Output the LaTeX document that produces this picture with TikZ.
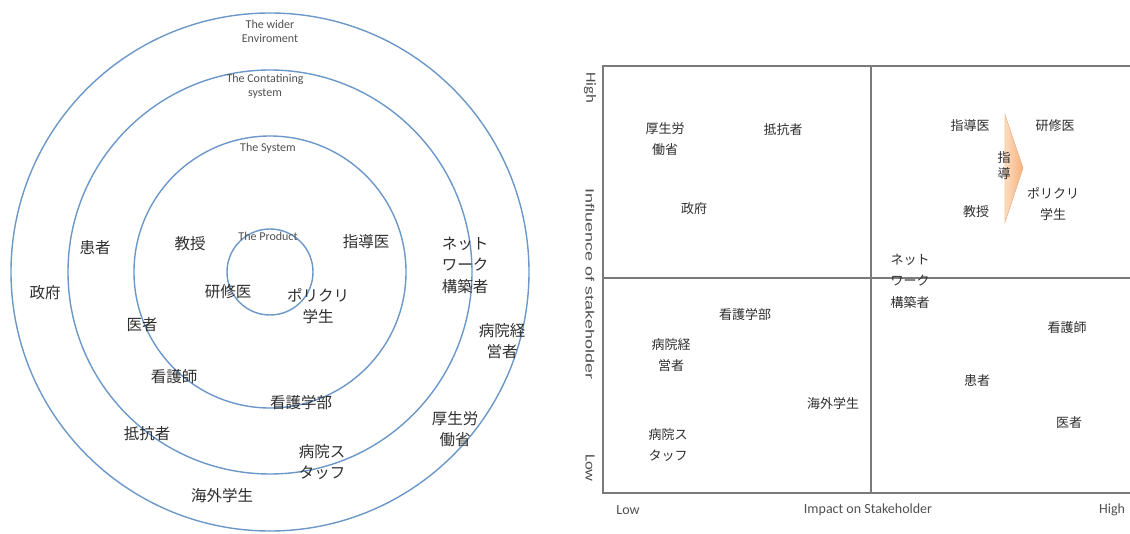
\documentclass[tikz,border=0pt]{standalone}
\usepackage{fontspec}
\setmainfont{Carlito}
\newfontfamily\jp{Noto Sans CJK JP}
\newfontfamily\axf{Liberation Sans}
\begin{document}
\begin{tikzpicture}[x=1pt,y=-1pt,
  ring/.style={draw=ringblue, line width=1.4pt},
  jl/.style={font=\jp\fontsize{15.5}{21.5}\selectfont, text=txt, align=center, inner sep=0pt},
  jr/.style={font=\jp\fontsize{13}{21.5}\selectfont, text=txt, align=center, inner sep=0pt},
  en/.style={font=\fontsize{12}{14}\selectfont, text=entxt, align=center, inner sep=0pt},
  ax/.style={font=\fontsize{14}{16}\selectfont, text=entxt, inner sep=0pt},
  grid/.style={draw=gridgray, line width=1.2pt}]
\definecolor{ringblue}{HTML}{6B97C9}
\definecolor{txt}{HTML}{2E2E2E}
\definecolor{entxt}{HTML}{505050}
\definecolor{gridgray}{HTML}{7A7A7A}
\definecolor{orL}{HTML}{FCDCC0}
\definecolor{orR}{HTML}{F7B07A}
\useasboundingbox (0,0) rectangle (1130,534);
% rings
\coordinate (c) at (270,272);
\draw[ring] (c) circle[radius=259];
\draw[ring] (c) circle[radius=202];
\draw[ring] (c) circle[radius=136];
\draw[ring] (c) circle[radius=43];
\node[en] (w1) at (270,31) {The wider\\Enviroment};
\node[en] (w2) at (265,86) {The Contatining\\system};
\node[en] (w3) at (268,148) {The System};
\node[en] (w4) at (268,236) {The Product};
\node[jl] (l1) at (95,248) {患者};
\node[jl] (l2) at (190,244) {教授};
\node[jl] (l3) at (366,242) {指導医};
\node[jl] (l4) at (465,265) {ネット\\ワーク\\構築者};
\node[jl] (l5) at (45,293) {政府};
\node[jl] (l6) at (228,292) {研修医};
\node[jl] (l7) at (318,306) {ポリクリ\\学生};
\node[jl] (l8) at (142,325) {医者};
\node[jl] (l9) at (502,341) {病院経\\営者};
\node[jl] (l10) at (174,377) {看護師};
\node[jl] (l11) at (301,403) {看護学部};
\node[jl] (l12) at (147,434) {抵抗者};
\node[jl] (l13) at (455,429) {厚生労\\働省};
\node[jl] (l14) at (322,462) {病院ス\\タッフ};
\node[jl] (l15) at (222,496) {海外学生};
% chart
\coordinate (tl) at (603,66);
\coordinate (bl) at (603,493);
\coordinate (tr) at (1130,66);
\coordinate (br) at (1130,493);
\coordinate (ml) at (603,278);
\coordinate (mr) at (1130,278);
\coordinate (mt) at (871,66);
\coordinate (mb) at (871,493);
\draw[grid] (tr) -- (tl) -- (bl) -- (br);
\draw[grid] (ml) -- (mr);
\draw[grid] (mt) -- (mb);
\node[ax,rotate=-90] (yh) at (590,88) {\scalebox{1.2}[1]{High}};
\node[ax,rotate=-90] (yi) at (590,284) {\scalebox{1.5}[1]{\axf\fontsize{12}{14}\selectfont Influence of stakeholder}};
\node[ax,rotate=-90] (yl) at (590,468) {\scalebox{1.2}[1]{Low}};
\node[ax] (xl) at (628,510) {Low};
\node[ax] (xi) at (868,510) {Impact on Stakeholder};
\node[ax] (xh) at (1112,510) {High};
\node[jr] (r1) at (665,139) {厚生労\\働省};
\node[jr] (r2) at (783,130) {抵抗者};
\node[jr] (r3) at (694,209) {政府};
\node[jr] (r4) at (970,126) {指導医};
\node[jr] (r5) at (1055,126) {研修医};
\node[jr] (r6) at (976,212) {教授};
\node[jr] (r7) at (1053,204) {ポリクリ\\学生};
\node[jr] (r8) at (910,281) {ネット\\ワーク\\構築者};
\node[jr] (r9) at (745,315) {看護学部};
\node[jr] (r10) at (671,355) {病院経\\営者};
\node[jr] (r11) at (833,404) {海外学生};
\node[jr] (r12) at (668,445) {病院ス\\タッフ};
\node[jr] (r13) at (1067,328) {看護師};
\node[jr] (r14) at (977,381) {患者};
\node[jr] (r15) at (1069,423) {医者};
% chevron
\coordinate (ca) at (1005,115);
\coordinate (cb) at (1023,168);
\coordinate (cc) at (1005,222);
\fill[left color=orL, right color=orR, draw=orR!80!white, line width=0.6pt] (ca) -- (cb) -- (cc) -- cycle;
\node[font=\jp\fontsize{13}{16}\selectfont, text=txt, align=center, inner sep=0pt] (cv) at (1004,166) {指\\導};
\end{tikzpicture}
\end{document}
